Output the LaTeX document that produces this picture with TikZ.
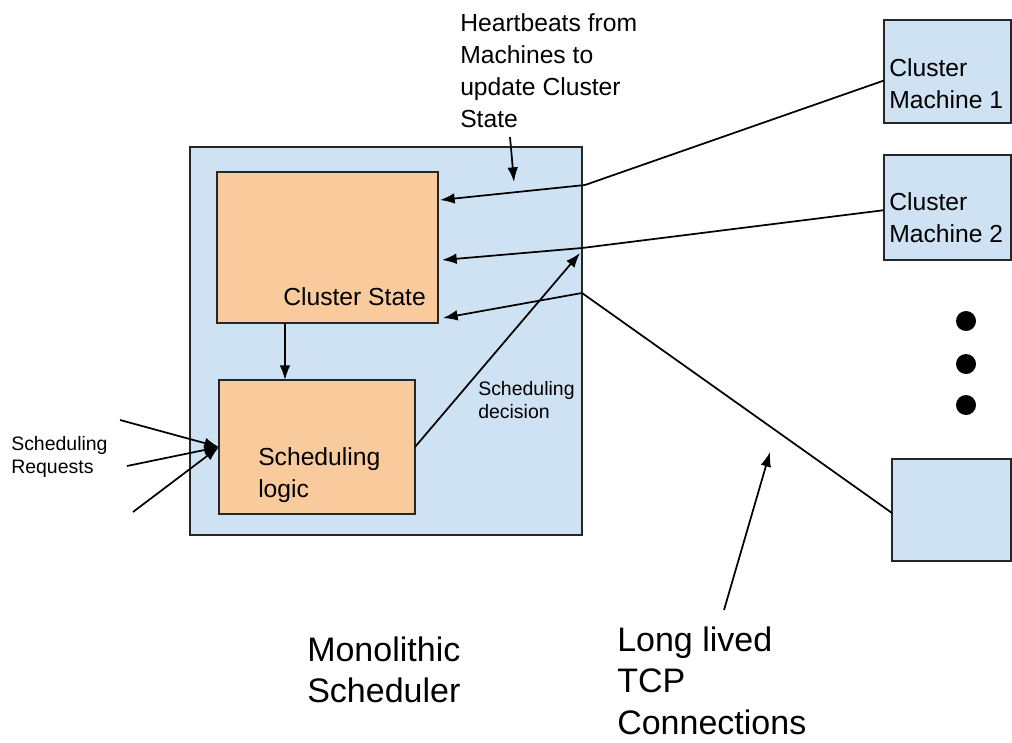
\documentclass[tikz,border=0pt]{standalone}
\usepackage{fontspec}
\setmainfont{Liberation Sans}
\usetikzlibrary{arrows.meta}
\definecolor{boxblue}{HTML}{CFE2F3}
\definecolor{boxorange}{HTML}{F9CB9C}
\begin{document}
\begin{tikzpicture}[x=0.75pt,y=-0.75pt,
  box/.style={draw=black!85, line width=1.2pt, inner sep=0, outer sep=0},
  conn/.style={line width=1.3pt, black},
  arr/.style={conn, -{Latex[length=11pt,width=8pt]}},
  smalltxt/.style={font=\fontsize{14.6}{17.3}\selectfont, align=left, inner sep=0, anchor=north west},
  medtxt/.style={font=\fontsize{18.5}{24}\selectfont, align=left, inner sep=0, anchor=north west},
  bigtxt/.style={font=\fontsize{25.5}{30.8}\selectfont, align=left, inner sep=0, anchor=north west},
  dot/.style={circle, fill=black, inner sep=0, minimum size=15pt}]
\useasboundingbox (0,0) rectangle (1012,742);

% main boxes
\node[box, fill=boxblue, minimum width=294pt, minimum height=291pt] (mono) at (386,341) {};
\node[box, fill=boxorange, minimum width=165.75pt, minimum height=113.25pt] (cs) at (327.5,247.5) {};
\node[box, fill=boxorange, minimum width=147pt, minimum height=100.5pt] (sl) at (317,447) {};

% machines
\node[box, fill=boxblue, minimum width=95.25pt, minimum height=77.25pt] (m1) at (947.5,71.5) {};
\node[box, fill=boxblue, minimum width=95.25pt, minimum height=78.75pt] (m2) at (947.5,207.5) {};
\node[box, fill=boxblue, minimum width=89.25pt, minimum height=76.5pt] (m3) at (951.5,510) {};

% dots
\node[dot] (d1) at (966,321) {};
\node[dot] (d2) at (966,364) {};
\node[dot] (d3) at (966,405) {};

% texts
\node[medtxt] (hb) at (460,13) {Heartbeats from\\Machines to\\update Cluster\\State};
\node[medtxt] (cst) at (283,287) {Cluster State};
\node[medtxt] (slt) at (258,447) {Scheduling\\logic};
\node[medtxt] (m1t) at (889,58) {Cluster\\Machine 1};
\node[medtxt] (m2t) at (889,192) {Cluster\\Machine 2};
\node[smalltxt] (sd) at (478,381) {Scheduling\\decision};
\node[smalltxt] (sr) at (11,436) {Scheduling\\Requests};
\node[bigtxt] (mt) at (307,637) {Monolithic\\Scheduler};
\node[bigtxt] (tcp) at (617,627) {Long lived\\TCP\\Connections};

% bend points
\coordinate (b1) at (585,185);
\coordinate (b2) at (582,248);
\coordinate (b3) at (582,293);
\coordinate (t1) at (440,200);
\coordinate (t2) at (442,260);
\coordinate (t3) at (443,318);
\coordinate (dec) at (580,253);
\coordinate (hbs) at (510,137);
\coordinate (hbe) at (514,182);
\coordinate (r1) at (120,420);
\coordinate (r2) at (127,466);
\coordinate (r3) at (133,512);
\coordinate (tcps) at (724,610);
\coordinate (tcpe) at (770,452);

% heartbeat connections
\draw[conn] ([yshift=-6.75pt]m1.west) -- (b1);
\draw[arr] (b1) -- (t1);
\draw[conn] ([yshift=-2pt]m2.west) -- (b2);
\draw[arr] (b2) -- (t2);
\draw[conn] ([yshift=-2.25pt]m3.west) -- (b3);
\draw[arr] (b3) -- (t3);

\draw[arr] (hbs) -- (hbe);
\draw[arr] ([xshift=51pt]cs.south west) -- ([xshift=51pt]cs.south west |- sl.north);
\draw[arr] (sl.east) -- (dec);
\draw[arr] (r1) -- (sl.west);
\draw[arr] (r2) -- (sl.west);
\draw[arr] (r3) -- (sl.west);
\draw[arr] (tcps) -- (tcpe);
\end{tikzpicture}
\end{document}
